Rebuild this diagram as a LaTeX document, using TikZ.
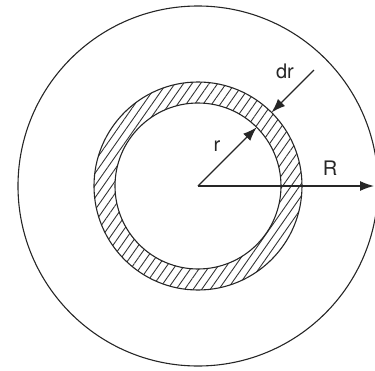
\documentclass[tikz,border=0pt]{standalone}
\usepackage{fontspec}
\setmainfont{TeX Gyre Heros}
\usetikzlibrary{arrows.meta,patterns.meta}
\tikzset{
  ring/.style={line width=1.1pt, draw=black!85},
  radius arrow/.style={line width=1.2pt, draw=black!85, -{Latex[length=14pt,width=10pt]}},
  lbl/.style={font=\fontsize{20}{20}\selectfont, text=black!85, inner sep=0pt}
}
\begin{document}
\begin{tikzpicture}[x=1pt,y=1pt]
  \useasboundingbox (-198,-184) rectangle (177,186);
  \coordinate (O) at (0,0);
  % circles
  \draw[ring] (O) circle (180);
  \draw[ring, even odd rule, pattern={Lines[angle=55,distance=7pt,line width=0.9pt]}, pattern color=black!80]
    (O) circle (104) (O) circle (83);
  % arrow ends
  \coordinate (rtip) at (45:83);
  \coordinate (drtip) at (45:104);
  \coordinate (drtail) at (45:164);
  \coordinate (Rtip) at (176,0);
  \draw[radius arrow] (O) -- (rtip);
  \draw[radius arrow] (O) -- (Rtip);
  \draw[radius arrow] (drtail) -- (drtip);
  % labels
  \node[lbl] (r) at (19,40) {r};
  \node[lbl] (R) at (132,18) {R};
  \node[lbl] (dr) at (87,115) {dr};
\end{tikzpicture}
\end{document}
